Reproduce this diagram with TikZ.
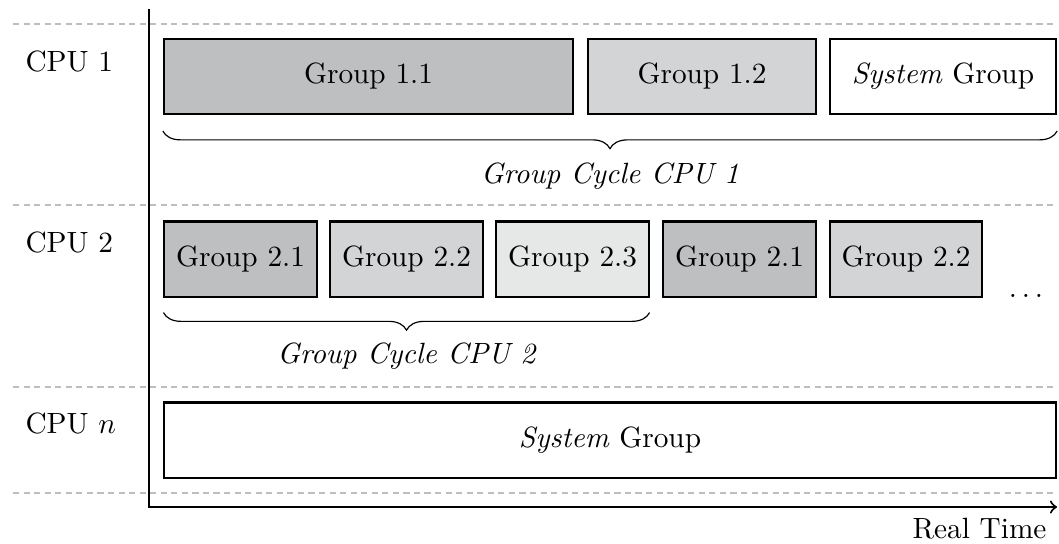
\documentclass[tikz,border=0pt]{standalone}
\usetikzlibrary{decorations.pathreplacing,calc}
\definecolor{grpdark}{RGB}{190,191,193}
\definecolor{grpmid}{RGB}{211,212,214}
\definecolor{grplight}{RGB}{230,231,231}
\definecolor{sepgray}{RGB}{190,190,190}

\begin{document}
\begin{tikzpicture}[x=0.012cm,y=-0.012cm,
    grp/.style={draw,line width=0.7pt,minimum height=0.9cm,inner sep=0pt},
    sep/.style={sepgray,line width=1pt,dash pattern=on 2.1pt off 1.5pt},
    cycbrace/.style={decorate,decoration={brace,amplitude=6pt,mirror}},
    lbl/.style={inner sep=0pt}]
    \useasboundingbox (0,0) rectangle (1059,543);
    % row separators
    \draw[sep] (13,24)  -- (1057,24);
    \draw[sep] (13,205) -- (1057,205);
    \draw[sep] (13,387) -- (1057,387);
    \draw[sep] (13,493) -- (1057,493);
    % time axis
    \draw[line width=0.7pt,->] (149,9) |- (1057,507);
    \node[lbl,anchor=base east] (rt) at (1047,538) {Real Time};
    % cpu labels
    \node[lbl,anchor=base west] (cpu1) at (25,71)  {CPU 1};
    \node[lbl,anchor=base west] (cpu2) at (25,252) {CPU 2};
    \node[lbl,anchor=base west] (cpun) at (25,433) {CPU $n$};
    % cpu 1
    \node[grp,fill=grpdark,minimum width=4.908cm] (g11) at (368.5,76.5) {Group 1.1};
    \node[grp,fill=grpmid,minimum width=2.736cm]  (g12) at (702,76.5)   {Group 1.2};
    \node[grp,fill=white,minimum width=2.712cm]   (s1)  at (943,76.5)   {\textit{System} Group};
    \draw[cycbrace] ($(g11.south west)+(0,16)$) -- ($(s1.south east)+(0,16)$);
    \node[lbl,anchor=base] (c1) at (610,183) {\textit{Group Cycle CPU 1}};
    % cpu 2
    \node[grp,fill=grpdark,minimum width=1.824cm]  (g21)  at (240.5,259) {Group 2.1};
    \node[grp,fill=grpmid,minimum width=1.824cm]   (g22)  at (406.5,259) {Group 2.2};
    \node[grp,fill=grplight,minimum width=1.824cm] (g23)  at (572.5,259) {Group 2.3};
    \node[grp,fill=grpdark,minimum width=1.824cm]  (g21b) at (739.5,259) {Group 2.1};
    \node[grp,fill=grpmid,minimum width=1.824cm]   (g22b) at (906,259)   {Group 2.2};
    \node[lbl,anchor=base] (dots) at (1026,297) {$\ldots$};
    \draw[cycbrace] ($(g21.south west)+(0,15)$) -- ($(g23.south east)+(0,15)$);
    \node[lbl,anchor=base] (c2) at (407,363) {\textit{Group Cycle CPU 2}};
    % cpu n
    \node[grp,fill=white,minimum width=10.704cm] (sn) at (610,440) {\textit{System} Group};
\end{tikzpicture}
\end{document}
